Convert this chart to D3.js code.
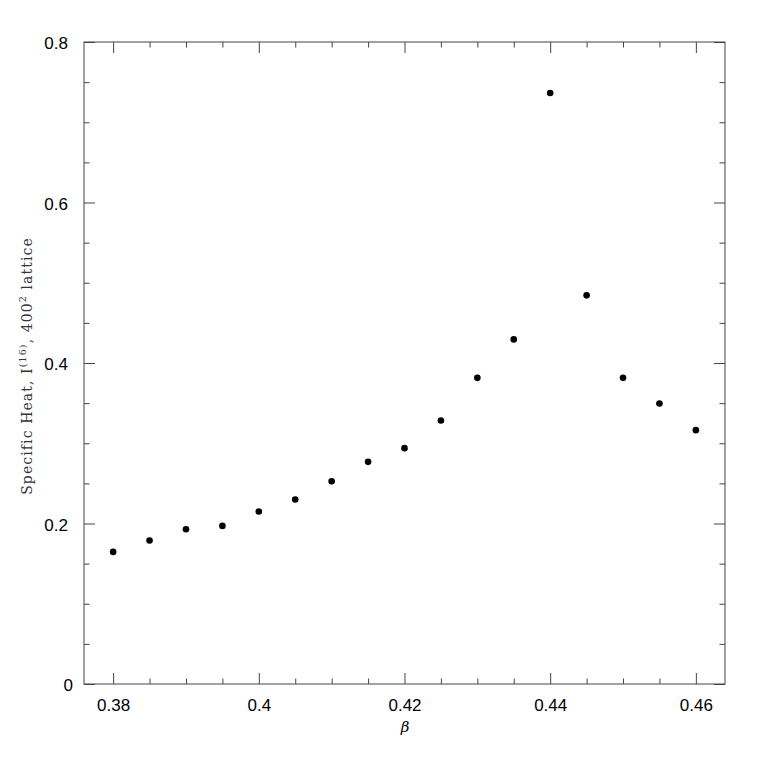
<!DOCTYPE html>
<html>
<head>
<meta charset="utf-8">
<script src="https://cdn.jsdelivr.net/npm/d3@7/dist/d3.min.js"></script>
<style>
	body { margin: 0; background: #fff; }
	.axis path { display: none; }
	.axis line { stroke: #444; }
	.axis text { font-family: 'Liberation Sans', Arial, sans-serif; font-size: 17px; fill: #000; }
</style>
</head>
<body>
<div id="chart"></div>
<script>
var betas = [0.38, 0.385, 0.39, 0.395, 0.40, 0.405, 0.41, 0.415, 0.42, 0.425, 0.43, 0.435, 0.44, 0.445, 0.45, 0.455, 0.46];
var heats = [0.1646, 0.1788, 0.1929, 0.1970, 0.2149, 0.2299, 0.2527, 0.2768, 0.2939, 0.3284, 0.3815, 0.4294, 0.7364, 0.4843, 0.3815, 0.3496, 0.3163];
var xMajor = [0.38, 0.40, 0.42, 0.44, 0.46];
var xMinor = [0.385, 0.39, 0.395, 0.405, 0.41, 0.415, 0.425, 0.43, 0.435, 0.445, 0.45, 0.455];
var yMajor = [0, 0.2, 0.4, 0.6, 0.8];
var yMinor = [0.05, 0.1, 0.15, 0.25, 0.3, 0.35, 0.45, 0.5, 0.55, 0.65, 0.7, 0.75];

var width = 766,
	height = 766,
	plotLeft = 84,
	plotRight = 725,
	plotTop = 42,
	plotBottom = 684;

var svg = d3.select('#chart').append('svg')
	.attr('width', width)
	.attr('height', height);

var x = d3.scaleLinear().domain([0.376, 0.464]).range([plotLeft, plotRight]),
	y = d3.scaleLinear().domain([0, 0.8]).range([plotBottom, plotTop]);

function fmt(d) { return d === 0 ? '0' : d3.format('.2~f')(d); }

// frame
svg.append('rect')
	.attr('x', plotLeft)
	.attr('y', plotTop)
	.attr('width', plotRight - plotLeft)
	.attr('height', plotBottom - plotTop)
	.attr('fill', 'none')
	.attr('stroke', '#444')
	.attr('stroke-width', 1);

// bottom axis, ticks pointing in
svg.append('g')
	.attr('class', 'axis')
	.attr('transform', 'translate(0,' + plotBottom + ')')
	.call(d3.axisBottom(x).tickValues(xMajor).tickSize(-11).tickPadding(15).tickFormat(fmt));
svg.append('g')
	.attr('class', 'axis')
	.attr('transform', 'translate(0,' + plotBottom + ')')
	.call(d3.axisBottom(x).tickValues(xMinor).tickSize(-5.5).tickFormat(''));

// top axis
svg.append('g')
	.attr('class', 'axis')
	.attr('transform', 'translate(0,' + plotTop + ')')
	.call(d3.axisTop(x).tickValues(xMajor).tickSize(-11).tickFormat(''));
svg.append('g')
	.attr('class', 'axis')
	.attr('transform', 'translate(0,' + plotTop + ')')
	.call(d3.axisTop(x).tickValues(xMinor).tickSize(-5.5).tickFormat(''));

// left axis
var yAxisG = svg.append('g')
	.attr('class', 'axis')
	.attr('transform', 'translate(' + plotLeft + ',0)')
	.call(d3.axisLeft(y).tickValues(yMajor).tickSize(-11).tickPadding(16).tickFormat(fmt));
yAxisG.selectAll('.tick text')
	.attr('dx', function (d) { return d === 0 ? 5 : 0; })
	.attr('dy', '0.4em');
svg.append('g')
	.attr('class', 'axis')
	.attr('transform', 'translate(' + plotLeft + ',0)')
	.call(d3.axisLeft(y).tickValues(yMinor).tickSize(-5.5).tickFormat(''));

// right axis
svg.append('g')
	.attr('class', 'axis')
	.attr('transform', 'translate(' + plotRight + ',0)')
	.call(d3.axisRight(y).tickValues(yMajor).tickSize(-11).tickFormat(''));
svg.append('g')
	.attr('class', 'axis')
	.attr('transform', 'translate(' + plotRight + ',0)')
	.call(d3.axisRight(y).tickValues(yMinor).tickSize(-5.5).tickFormat(''));

// points
svg.append('g')
	.selectAll('circle')
	.data(betas)
	.enter()
	.append('circle')
	.attr('cx', function (d) { return x(d); })
	.attr('cy', function (d, i) { return y(heats[i]); })
	.attr('r', 3.3)
	.attr('fill', '#000');

// x label
svg.append('text')
	.attr('x', (plotLeft + plotRight) / 2 + 0.5)
	.attr('y', 732)
	.attr('text-anchor', 'middle')
	.attr('font-family', 'DejaVu Serif, serif')
	.attr('font-style', 'italic')
	.attr('font-size', 15)
	.attr('fill', '#000')
	.text('\u03b2');

// y label
var ylab = svg.append('text')
	.attr('transform', 'translate(32,' + ((plotTop + plotBottom) / 2 + 3) + ') rotate(-90)')
	.attr('text-anchor', 'middle')
	.attr('font-family', 'DejaVu Serif, serif')
	.attr('font-size', 14)
	.attr('letter-spacing', 1.1)
	.attr('fill', '#333');
ylab.append('tspan').text('Specific Heat, I');
ylab.append('tspan').attr('font-size', 9.5).attr('dy', -6).text('(16)');
ylab.append('tspan').attr('dy', 6).text(', 400');
ylab.append('tspan').attr('font-size', 9.5).attr('dy', -6).text('2');
ylab.append('tspan').attr('dy', 6).text(' lattice');
</script>
</body>
</html>
